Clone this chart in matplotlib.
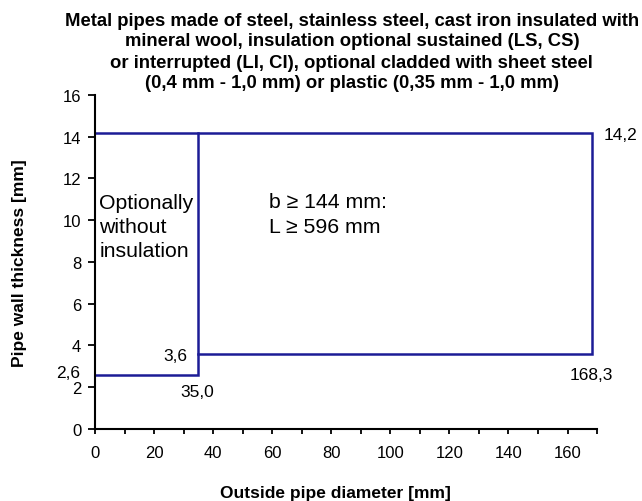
import matplotlib
matplotlib.use("Agg")
import matplotlib.pyplot as plt
from matplotlib.ticker import MultipleLocator

plt.rcParams['font.family'] = ['Liberation Sans', 'DejaVu Sans']

# Boundary of the application range (outside diameter [mm], wall thickness [mm])
lower_x = [0, 35.0, 35.0]
lower_y = [2.6, 2.6, 14.2]
upper_x = [35.0, 168.3, 168.3, 0]
upper_y = [3.6, 3.6, 14.2, 14.2]

title_lines = ["Metal pipes made of steel, stainless steel, cast iron insulated with",
               "mineral wool, insulation optional sustained (LS, CS)",
               "or interrupted (LI, CI), optional cladded with sheet steel",
               "(0,4 mm - 1,0 mm) or plastic (0,35 mm - 1,0 mm)"]
xlabel = "Outside pipe diameter [mm]"
ylabel = "Pipe wall thickness [mm]"

line_color = "#1c1c96"

W, H = 642, 502
fig = plt.figure(figsize=(W / 100, H / 100), dpi=100)
ax = fig.add_axes([0.148, 0.1434, 0.782, 0.6655])

ax.plot(lower_x, lower_y, color=line_color, lw=1.8, solid_joinstyle='miter')
ax.plot(upper_x, upper_y, color=line_color, lw=1.8, solid_joinstyle='miter')

ax.set_xlim(0, 170)
ax.set_ylim(0, 16)
ax.xaxis.set_major_locator(MultipleLocator(20))
ax.xaxis.set_minor_locator(MultipleLocator(10))
ax.yaxis.set_major_locator(MultipleLocator(2))

for s in ['top', 'right']:
    ax.spines[s].set_visible(False)
for s in ['left', 'bottom']:
    ax.spines[s].set_linewidth(1.5)
ax.tick_params(axis='both', which='major', width=1.3, labelsize=12, direction='out')
ax.tick_params(axis='x', which='both', length=3.5, width=1.3, pad=8)
ax.tick_params(axis='y', which='major', length=5, pad=5)

ax.set_xlabel(xlabel, fontsize=12.5, fontweight='bold')
ax.set_ylabel(ylabel, fontsize=12.5, fontweight='bold')
ax.xaxis.set_label_coords(0.478, -0.167)
ax.yaxis.set_label_coords(-0.135, 0.5)

# Title, one text per line (centred)
title_line_px = [21, 42, 63, 83]
for txt, py in zip(title_lines, title_line_px):
    fig.text(0.548, 1 - py / H, txt, ha='center', va='center', fontsize=13.3,
             fontweight='bold')

# Annotations
ax.text(1.5, 9.7, "Optionally\nwithout\ninsulation", ha='left', va='center',
        fontsize=15.3, linespacing=1.36)
ax.text(59, 10.3, "b \u2265 144 mm:\nL \u2265 596 mm", ha='left', va='center',
        fontsize=15.3, linespacing=1.36)
ax.text(-5.1, 2.73, "2,6", ha='right', va='center', fontsize=12.5, clip_on=False)
ax.text(31.2, 3.54, "3,6", ha='right', va='center', fontsize=12.5)
ax.text(34.6, 1.82, "35,0", ha='center', va='center', fontsize=12.5)
ax.text(168.1, 2.63, "168,3", ha='center', va='center', fontsize=12.5)
ax.text(172.2, 14.1, "14,2", ha='left', va='center', fontsize=12.5, clip_on=False)

fig.savefig("out.png", dpi=100)
